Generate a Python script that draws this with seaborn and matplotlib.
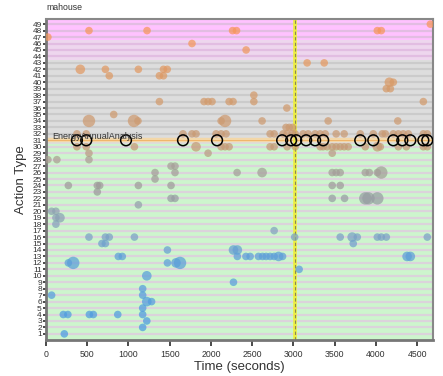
import numpy as np
import pandas as pd
import matplotlib
matplotlib.use("Agg")
import matplotlib.pyplot as plt
import seaborn as sns
from matplotlib.colors import LinearSegmentedColormap

# ---- data ------------------------------------------------------------------
# action type rows that have events, times (s) of the events, size class (1-3)
action_rows = [49, 48, 47, 46, 45, 43, 42, 41, 40, 39, 38, 37, 36, 35, 34, 33,
               32, 30, 29, 28, 27, 26, 25, 24, 23, 22, 21, 20, 19, 18, 17, 16,
               15, 14, 13, 12, 11, 10, 9, 8, 7, 6, 5, 4, 3, 2, 1]
event_times = [
    [4660],
    [521, 1225, 2262, 2310, 4017, 4065],
    [23],
    [1770],
    [2426],
    [3166, 3373],
    [416, 720, 1120, 1424, 1470],
    [767, 1375, 1424],
    [4163, 4211],
    [4126, 4175],
    [2520],
    [1375, 1916, 1965, 2013, 2220, 2268, 2520, 4575],
    [2920],
    [821],
    [521, 1067, 1115, 2123, 2171, 2620, 3421, 4265],
    [2910, 2950, 2990],
    [375, 488, 1661, 1770, 1819, 2062, 2123, 2183, 2717, 2766, 2875, 2924,
     2984, 3021, 3118, 3178, 3263, 3324, 3385, 3518, 3615, 3810, 3968, 4077,
     4114, 4211, 4272, 4332, 4393, 4575, 4623],
    [375, 488, 1072, 1819, 2123, 2171, 2220, 2717, 2766, 2924, 3021, 3324,
     3360, 3409, 3470, 3518, 3567, 3615, 3664, 3871, 4017, 4053, 4272, 4369,
     4575, 4623],
    [521, 1965, 3470],
    [23, 132, 521],
    [1516, 1564],
    [1322, 1564, 2317, 2620, 3470, 3518, 3567, 3871, 3920, 4017, 4065],
    [1322],
    [271, 622, 651, 1120, 1516, 3470, 3567],
    [622],
    [1516, 1564, 3470, 3620, 3871, 3910, 4017],
    [1120],
    [68, 120],
    [120, 169],
    [120],
    [2766],
    [521, 720, 767, 1072, 3015, 3567, 3712, 3774, 4017, 4065, 4126, 4623],
    [678, 720, 3725],
    [1472, 2273, 2320],
    [877, 925, 2320, 2424, 2475, 2576, 2625, 2669, 2717, 2766, 2820, 2868,
     4378, 4417],
    [271, 330, 1472, 1576, 1625],
    [3069],
    [1222],
    [2273],
    [1172],
    [68, 1172],
    [1222, 1280],
    [1172],
    [210, 265, 526, 574, 870, 1172],
    [1222],
    [1172],
    [222],
]
event_sizes = [
    [1],
    [1, 1, 1, 1, 1, 1],
    [1],
    [1],
    [1],
    [1, 1],
    [2, 1, 1, 1, 1],
    [1, 1, 1],
    [2, 1],
    [1, 1],
    [1],
    [1, 1, 1, 1, 1, 1, 1, 1],
    [1],
    [1],
    [3, 3, 1, 1, 3, 1, 1, 1],
    [1, 1, 1],
    [1] * 31,
    [1, 1, 1, 2, 1, 1, 1, 1, 1, 1, 1, 1, 1, 1, 1, 1, 1, 1, 1, 1, 2, 1, 1, 1, 1, 1],
    [1, 1, 1],
    [1, 1, 1],
    [1, 1],
    [1, 1, 1, 2, 1, 1, 1, 1, 1, 1, 3],
    [1],
    [1, 1, 1, 1, 1, 1, 1],
    [1],
    [1, 1, 1, 1, 3, 3, 3],
    [1],
    [1, 1],
    [1, 2],
    [1],
    [1],
    [1, 1, 1, 1, 1, 1, 2, 1, 1, 1, 1, 1],
    [1, 1, 1],
    [1, 2, 2],
    [1, 1, 1, 1, 1, 1, 1, 1, 1, 1, 2, 1, 2, 2],
    [1, 3, 1, 2, 3],
    [1],
    [2],
    [1],
    [1],
    [1, 1],
    [2, 1],
    [1],
    [1, 1, 1, 1, 1, 1],
    [1],
    [1],
    [1],
]

# highlighted action (open circles)
highlight_row = 31
highlight_label = "EnergyAnnualAnalysis"
highlight_times = [375, 488, 970, 1661, 2074, 2863, 2972, 3033, 3154, 3263,
                   3360, 3810, 3968, 4211, 4320, 4417, 4575, 4623]

marker_time = 3020
y_ticks = list(range(1, 50))
x_ticks = list(range(0, 5000, 500))

# ---- frame -----------------------------------------------------------------
rows, times, sizes = [], [], []
for r, ts, ss in zip(action_rows, event_times, event_sizes):
    rows += [r] * len(ts)
    times += ts
    sizes += ss
df = pd.DataFrame({"time": times, "action": rows, "size": sizes})
df_hl = pd.DataFrame({"time": highlight_times,
                      "action": [highlight_row] * len(highlight_times)})

sns.set_theme(style="white")
plt.rcParams["font.family"] = ["Liberation Sans", "DejaVu Sans"]

fig = plt.figure(figsize=(4.43, 3.76), dpi=100)
ax = fig.add_axes([46 / 443, 36 / 376, 387 / 443, 321 / 376])

# background bands
ax.axhspan(0, 30.5, color="#cdf5cd", zorder=0, lw=0)
ax.axhspan(30.5, 43.5, color="#dddddd", zorder=0, lw=0)
ax.axhspan(43.5, 46.5, color="#eed6ee", zorder=0, lw=0)
ax.axhspan(46.5, 50, color="#ffc2ff", zorder=0, lw=0)
for r in y_ticks:
    if r <= 30:
        c = "#dbd3db"
    elif r <= 43:
        c = "#cbcbcb"
    else:
        c = "#e2bde2"
    ax.axhline(r, color=c, lw=1.6, zorder=1)

# highlighted action line
ax.axhline(highlight_row, color="#f3d7a8", lw=3.2, zorder=1.5)
ax.axhline(highlight_row, color="#f0b060", lw=0.6, zorder=1.6)

cmap = LinearSegmentedColormap.from_list(
    "rows",
    [(0.0, "#4a9be2"), (0.25, "#5d9fd8"), (0.33, "#80a2c0"), (0.40, "#8fa2b0"),
     (0.46, "#9a9a9a"), (0.56, "#a8a096"), (0.60, "#c59a76"), (0.80, "#d69a68"),
     (0.94, "#f3985a"), (1.0, "#f7955a")])

sns.scatterplot(data=df, x="time", y="action", hue="action", palette=cmap,
                hue_norm=(1, 49), size="size", sizes={1: 30, 2: 48, 3: 80},
                alpha=0.72, linewidth=0, legend=False, ax=ax, zorder=3)

sns.scatterplot(data=df_hl, x="time", y="action", s=60, facecolor="none",
                edgecolor="black", linewidth=1.1, legend=False, ax=ax, zorder=4)

ax.text(70, highlight_row + 0.55, highlight_label, fontsize=6.5,
        color="#333333", va="center", ha="left", zorder=5)

# marker line
ax.axvline(marker_time, color="#eeee40", lw=2.6, zorder=2)
ax.axvline(marker_time, color="#8a8a50", lw=0.8, ls=(0, (3, 2)), zorder=2.1)

ax.set_xlim(0, 4692)
ax.set_ylim(0.05, 49.8)
ax.set_yticks(y_ticks)
ax.set_xticks(x_ticks)
ax.tick_params(axis="y", labelsize=6, length=2, pad=1, left=True,
               colors="#333333")
ax.tick_params(axis="x", labelsize=6.3, length=4, pad=3, bottom=True,
               colors="#333333")
ax.set_xlabel("Time (seconds)", fontsize=9.5, labelpad=1.5, color="#333333")
ax.set_ylabel("Action Type", fontsize=9.5, labelpad=4, color="#333333")

for side in ["left", "bottom"]:
    ax.spines[side].set_color("#777777")
    ax.spines[side].set_linewidth(2)
for side in ["top", "right"]:
    ax.spines[side].set_color("#888888")
    ax.spines[side].set_linewidth(1.5)

fig.text(46 / 443, 1 - 8 / 376, "mahouse", fontsize=6.3, color="#333333",
         va="center", ha="left")

plt.savefig("out.png", dpi=100)
plt.close()
